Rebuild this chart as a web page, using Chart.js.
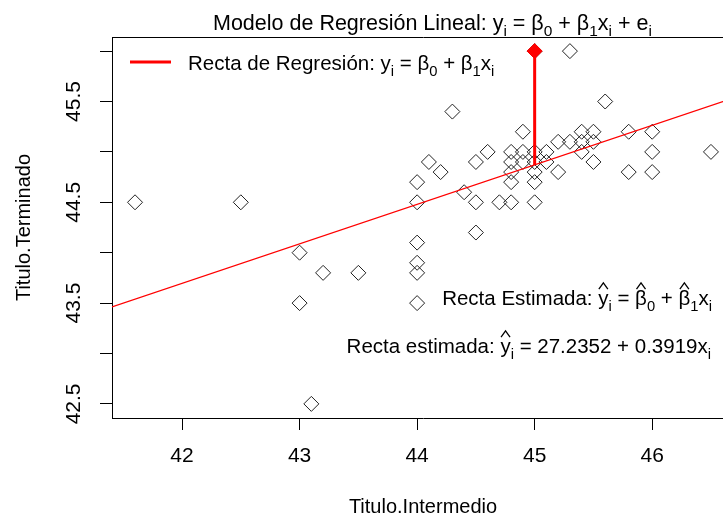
<!DOCTYPE html>
<html lang="es">
<head>
  <meta charset="UTF-8" />
  <title>Modelo de Regresión Lineal</title>
  <script src="https://cdn.jsdelivr.net/npm/chart.js"></script>
  <style>
    html, body { margin: 0; padding: 0; background: #fff; overflow: hidden; }
    .wrap { width: 723px; height: 518px; overflow: hidden; }
  </style>
</head>
<body>
  <div class="wrap"><canvas id="chart" width="745" height="518"></canvas></div>

  <script>
    // Titulo.Intermedio (x) / Titulo.Terminado (y)
    const intermedio = [41.6, 42.5, 43.0, 43.0, 43.1, 43.2, 43.5, 44.0, 44.0, 44.0, 44.0, 44.0, 44.0,
      44.1, 44.2, 44.3, 44.4, 44.5, 44.5, 44.5, 44.6, 44.7, 44.8, 44.8, 44.8, 44.8, 44.8,
      44.9, 44.9, 44.9, 45.0, 45.0, 45.0, 45.0, 45.0, 45.0, 45.1, 45.1, 45.2, 45.2, 45.3, 45.3,
      45.4, 45.4, 45.4, 45.5, 45.5, 45.5, 45.6, 45.8, 45.8, 46.0, 46.0, 46.0, 46.5];
    const terminado = [44.5, 44.5, 44.0, 43.5, 42.5, 43.8, 43.8, 44.7, 44.5, 44.1, 43.9, 43.8, 43.5,
      44.9, 44.8, 45.4, 44.6, 44.9, 44.5, 44.2, 45.0, 44.5, 45.0, 44.9, 44.8, 44.7, 44.5,
      45.2, 45.0, 44.9, 46.0, 45.0, 44.9, 44.8, 44.7, 44.5, 45.0, 44.9, 45.1, 44.8, 46.0, 45.1,
      45.2, 45.1, 45.0, 45.2, 45.1, 44.9, 45.5, 45.2, 44.8, 45.2, 45.0, 44.8, 45.0];
    const destacado = 30;          // observacion resaltada en rojo
    const b0 = 27.2352;
    const b1 = 0.3919;
    const xTicks = [42, 43, 44, 45, 46];
    const yTicks = [42.5, 43, 43.5, 44, 44.5, 45, 45.5, 46];
    const yLabels = [42.5, 43.5, 44.5, 45.5];

    const FONT = '"Liberation Sans", Arial, sans-serif';

    // limites estilo R (rango + 4%)
    function rRange(v) {
      const lo = Math.min(...v), hi = Math.max(...v), d = (hi - lo) * 0.04;
      return [lo - d, hi + d];
    }
    const [xMin, xMax] = rRange(intermedio);
    const [yMin, yMax] = rRange(terminado);

    const puntos = intermedio.map((x, i) => ({ x: x, y: terminado[i] }));
    const recta = [xMin, xMax].map(x => ({ x: x, y: b0 + b1 * x }));
    const xd = intermedio[destacado], yd = terminado[destacado];
    const residuo = [{ x: xd, y: yd }, { x: xd, y: b0 + b1 * xd }];

    // texto con subindices y sombreros (tipo plotmath)
    function drawMath(ctx, parts, x, y, size, align) {
      const sub = size * 0.72;
      const widths = parts.map(p => {
        ctx.font = (p[1] === 's' ? sub : size) + 'px ' + FONT;
        return ctx.measureText(p[0]).width;
      });
      const total = widths.reduce((a, b) => a + b, 0);
      let cx = align === 'right' ? x - total : align === 'center' ? x - total / 2 : x;
      ctx.textAlign = 'left';
      ctx.textBaseline = 'alphabetic';
      parts.forEach((p, i) => {
        ctx.font = (p[1] === 's' ? sub : size) + 'px ' + FONT;
        ctx.fillText(p[0], cx, y + (p[1] === 's' ? size * 0.3 : 0));
        if (p[1] === 'h') {
          const mid = cx + widths[i] / 2;
          ctx.beginPath();
          ctx.lineWidth = 1.3;
          ctx.moveTo(mid - size * 0.22, y - size * 0.78);
          ctx.lineTo(mid, y - size * 1.08);
          ctx.lineTo(mid + size * 0.22, y - size * 0.78);
          ctx.stroke();
        }
        cx += widths[i];
      });
    }

    const titulo = [['Modelo de Regresión Lineal: ', 'n'], ['y', 'n'], ['i', 's'], [' = ', 'n'],
      ['β', 'n'], ['0', 's'], [' + ', 'n'], ['β', 'n'], ['1', 's'], ['x', 'n'], ['i', 's'],
      [' + ', 'n'], ['e', 'n'], ['i', 's']];
    const leyenda = [['Recta de Regresión: ', 'n'], ['y', 'n'], ['i', 's'], [' = ', 'n'],
      ['β', 'n'], ['0', 's'], [' + ', 'n'], ['β', 'n'], ['1', 's'], ['x', 'n'], ['i', 's']];
    const estimada = [['Recta Estimada: ', 'n'], ['y', 'h'], ['i', 's'], [' = ', 'n'],
      ['β', 'h'], ['0', 's'], [' + ', 'n'], ['β', 'h'], ['1', 's'], ['x', 'n'], ['i', 's']];
    const estimadaNum = [['Recta estimada: ', 'n'], ['y', 'h'], ['i', 's'], [' = ', 'n'],
      [b0.toFixed(4), 'n'], [' + ', 'n'], [b1.toFixed(4), 'n'], ['x', 'n'], ['i', 's']];

    const textos = {
      id: 'textos',
      afterDraw(chart) {
        const ctx = chart.ctx, a = chart.chartArea;
        ctx.save();
        // marco superior y derecho
        ctx.strokeStyle = '#000';
        ctx.lineWidth = 1;
        ctx.beginPath();
        ctx.moveTo(Math.round(a.left) + 0.5, Math.round(a.top) + 0.5);
        ctx.lineTo(Math.round(a.right) + 0.5, Math.round(a.top) + 0.5);
        ctx.lineTo(Math.round(a.right) + 0.5, Math.round(a.bottom) + 0.5);
        ctx.stroke();

        ctx.fillStyle = '#000';
        ctx.strokeStyle = '#000';
        drawMath(ctx, titulo, 213, 30, 21.5, 'left');

        // leyenda
        ctx.strokeStyle = '#ff0000';
        ctx.lineWidth = 3;
        ctx.beginPath();
        ctx.moveTo(130, 62);
        ctx.lineTo(171, 62);
        ctx.stroke();
        ctx.strokeStyle = '#000';
        drawMath(ctx, leyenda, 188, 70, 20.5, 'left');

        drawMath(ctx, estimada, 712, 305, 20.5, 'right');
        drawMath(ctx, estimadaNum, 711, 353, 20.5, 'right');
        ctx.restore();
      }
    };

    new Chart(document.getElementById('chart'), {
      type: 'scatter',
      data: {
        datasets: [
          {
            data: [puntos[destacado]],
            pointStyle: 'rectRot',
            pointRadius: 7.5,
            backgroundColor: '#ff0000',
            borderColor: '#ff0000',
            borderWidth: 1,
            order: 0
          },
          {
            data: residuo,
            showLine: true,
            pointRadius: 0,
            borderColor: '#ff0000',
            borderWidth: 3,
            order: 1
          },
          {
            data: recta,
            showLine: true,
            pointRadius: 0,
            borderColor: '#ff0000',
            borderWidth: 1.2,
            order: 2
          },
          {
            data: puntos,
            pointStyle: 'rectRot',
            pointRadius: 7.5,
            backgroundColor: 'rgba(0,0,0,0)',
            borderColor: '#222',
            borderWidth: 1,
            order: 3
          }
        ]
      },
      options: {
        responsive: false,
        animation: false,
        events: [],
        layout: { padding: { top: 37, right: 11, left: 0, bottom: 0 } },
        plugins: { legend: { display: false }, tooltip: { enabled: false } },
        scales: {
          x: {
            type: 'linear',
            min: xMin,
            max: xMax,
            afterFit: s => { s.height = 100; },
            afterBuildTicks: s => { s.ticks = xTicks.map(v => ({ value: v })); },
            grid: { drawOnChartArea: false, drawTicks: true, tickLength: 12, tickColor: '#000' },
            border: { display: true, color: '#000', width: 1 },
            ticks: { color: '#000', font: { family: FONT, size: 21 }, padding: 14, callback: v => String(v) },
            title: { display: true, text: 'Titulo.Intermedio', color: '#000',
              font: { family: FONT, size: 20 }, padding: { top: 0, bottom: -1 } }
          },
          y: {
            type: 'linear',
            min: yMin,
            max: yMax,
            afterFit: s => { s.width = 112; },
            afterBuildTicks: s => { s.ticks = yTicks.map(v => ({ value: v })); },
            grid: { drawOnChartArea: false, drawTicks: true, tickLength: 12, tickColor: '#000' },
            border: { display: true, color: '#000', width: 1 },
            ticks: {
              color: '#000', font: { family: FONT, size: 21 }, padding: 5,
              minRotation: 90, maxRotation: 90, crossAlign: 'center',
              callback: v => yLabels.includes(v) ? String(v) : ''
            },
            title: { display: true, text: 'Titulo.Terminado', color: '#000',
              font: { family: FONT, size: 20 }, padding: { top: 12, bottom: 12 } }
          }
        }
      },
      plugins: [textos]
    });
  </script>
</body>
</html>
